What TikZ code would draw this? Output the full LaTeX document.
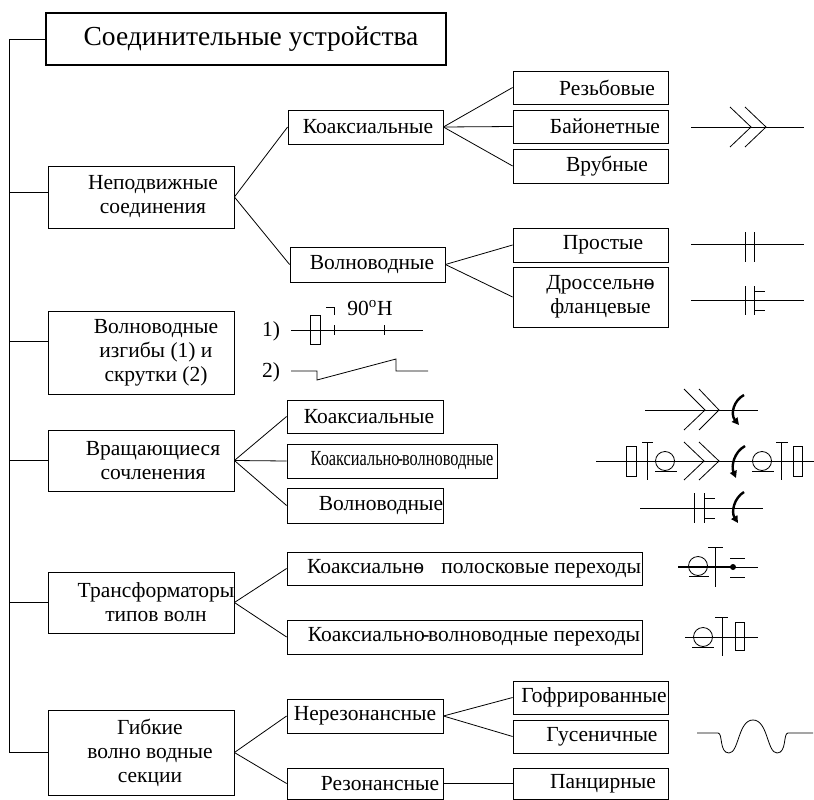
\documentclass[tikz,border=0pt]{standalone}
\usepackage{fontspec}
\setmainfont{Liberation Serif}
\usetikzlibrary{arrows.meta}
\newcommand{\body}{\fontsize{21.5}{24}\selectfont}
\newcommand{\obar}{\ooalign{о\cr\hidewidth-\hidewidth\cr}}
\newcommand{\jhy}{\kern-.12em-\kern-.06em}
\tikzset{
  box/.style={draw, line width=.8pt, inner sep=0pt},
  txt/.style={align=center, font=\body, inner sep=0pt},
  link/.style={line width=.8pt},
  sym/.style={line width=.8pt},
  turn/.style={line width=2.4pt, -{Triangle[length=7pt,width=7pt]}},
}
\begin{document}
\begin{tikzpicture}[x=1pt, y=-1pt]
  \useasboundingbox (0,0) rectangle (814,800);

  % title and trunk
  \node[box, line width=1.6pt, minimum width=400, minimum height=52] (top) at (246,39) {};
  \node[txt, font=\fontsize{27.5}{30}\selectfont] (top-t) at ([xshift=5]top.center) {Соединительные устройства};
  \coordinate (trunk) at (9,39);

  % first level
  \node[box, minimum width=186, minimum height=62] (nep) at (141,197) {};
  \node[txt] (nep-t) at ([xshift=12]nep.center) {Неподвижные\\соединения};
  \node[box, minimum width=186, minimum height=83] (izg) at (141,352.5) {};
  \node[txt] (izg-t) at ([xshift=15]izg.center) {Волноводные\\изгибы (1) и\\скрутки (2)};
  \node[box, minimum width=186, minimum height=61] (vra) at (141,460.5) {};
  \node[txt] (vra-t) at ([xshift=12]vra.center) {Вращающиеся\\сочленения};
  \node[box, minimum width=186, minimum height=61] (trf) at (141,602.5) {};
  \node[txt] (trf-t) at ([xshift=15]trf.center) {Трансформаторы\\типов волн};
  \node[box, minimum width=186, minimum height=85] (gib) at (141,752.5) {};
  \node[txt] (gib-t) at ([xshift=9]gib.center) {Гибкие\\волно водные\\секции};

  \draw[link] (top.west) -- (trunk) |- (gib.west);
  \draw[link] ([yshift=5]nep.west) -- ([yshift=5]nep.west -| trunk);
  \draw[link] ([yshift=11]izg.west) -- ([yshift=11]izg.west -| trunk);
  \draw[link] (vra.west) -- (vra.west -| trunk);
  \draw[link] (trf.west) -- (trf.west -| trunk);

  % fixed joints
  \node[box, minimum width=155, minimum height=34] (kx1) at (365.5,127) {};
  \node[txt] (kx1-t) at ([xshift=2.5]kx1.center) {Коаксиальные};
  \node[box, minimum width=155, minimum height=35] (vv1) at (367.5,264.5) {};
  \node[txt] (vv1-t) at ([xshift=4.5]vv1.center) {Волноводные};
  \node[box, minimum width=155, minimum height=33] (rez) at (590.5,87.5) {};
  \node[txt] (rez-t) at ([xshift=16.5]rez.center) {Резьбовые};
  \node[box, minimum width=155, minimum height=33] (bay) at (590.5,126.5) {};
  \node[txt] (bay-t) at ([xshift=14.5]bay.center) {Байонетные};
  \node[box, minimum width=155, minimum height=34] (vrb) at (590.5,166) {};
  \node[txt] (vrb-t) at ([xshift=16.5]vrb.center) {Врубные};
  \node[box, minimum width=155, minimum height=34] (pro) at (590.5,245) {};
  \node[txt] (pro-t) at ([xshift=12.5]pro.center) {Простые};
  \node[box, minimum width=155, minimum height=60] (dro) at (590.5,297) {};
  \node[txt] (dro-t) at ([xshift=10]dro.center) {Дроссельн\obar\\фланцевые};

  \draw[link] (nep.east) -- (kx1.west);
  \draw[link] (nep.east) -- (vv1.west);
  \draw[link] (kx1.east) -- (rez.west);
  \draw[link] (kx1.east) -- (bay.west);
  \draw[link] (kx1.east) -- (vrb.west);
  \draw[link] (vv1.east) -- (pro.west);
  \draw[link] (vv1.east) -- (dro.west);

  % rotating joints
  \node[box, minimum width=156, minimum height=33] (kx2) at (365,416.5) {};
  \node[txt] (kx2-t) at ([xshift=4]kx2.center) {Коаксиальные};
  \node[box, minimum width=210, minimum height=34] (kv2) at (392,461) {};
  \node[txt] (kv2-t) at ([xshift=10]kv2.center) {\scalebox{.76}[1]{Коаксиально\jhy волноводные}};
  \node[box, minimum width=156, minimum height=35] (vv2) at (365,505.5) {};
  \node[txt] (vv2-t) at ([xshift=16]vv2.center) {Волноводные};

  \draw[link] (vra.east) -- (kx2.west);
  \draw[link] (vra.east) -- (kv2.west);
  \draw[link] (vra.east) -- (vv2.west);

  % wave type transformers
  \node[box, minimum width=355, minimum height=33] (kpp) at (464.5,568.5) {};
  \node[txt] (kpp-t) at ([xshift=9.5]kpp.center) {Коаксиальн\obar\hspace{.8em}полосковые переходы};
  \node[box, minimum width=355, minimum height=34] (kwp) at (464.5,637) {};
  \node[txt] (kwp-t) at ([xshift=9.5]kwp.center) {Коаксиально\jhy волноводные переходы};

  \draw[link] (trf.east) -- (kpp.west);
  \draw[link] (trf.east) -- (kwp.west);

  % flexible sections
  \node[box, minimum width=156, minimum height=34] (ner) at (365,716) {};
  \node[txt] (ner-t) at (ner.center) {Нерезонансные};
  \node[box, minimum width=156, minimum height=31] (res) at (365,783.5) {};
  \node[txt] (res-t) at ([xshift=15]res.center) {Резонансные};
  \node[box, minimum width=155, minimum height=33] (gof) at (590.5,697.5) {};
  \node[txt] (gof-t) at ([xshift=3.5]gof.center) {Гофрированные};
  \node[box, minimum width=155, minimum height=33] (gus) at (590.5,736.5) {};
  \node[txt] (gus-t) at ([xshift=11.5]gus.center) {Гусеничные};
  \node[box, minimum width=155, minimum height=31] (pan) at (590.5,783.5) {};
  \node[txt] (pan-t) at ([xshift=12.5]pan.center) {Панцирные};

  \draw[link] (gib.east) -- (ner.west);
  \draw[link] (gib.east) -- (res.west);
  \draw[link] (ner.east) -- (gof.west);
  \draw[link] (ner.east) -- (gus.west);
  \draw[link] (res.east) -- (pan.west);

  % symbols: fixed joints
  \draw[sym] (691,127) -- (804,127);
  \draw[sym] (730,107) -- (751,127) -- (730,147);
  \draw[sym] (745,107) -- (766,127) -- (745,147);
  \draw[sym] (691,244) -- (804,244);
  \draw[sym] (745,232) -- (745,262) (754,232) -- (754,262);
  \draw[sym] (691,300) -- (804,300);
  \draw[sym] (745,286) -- (745,315) (754,286) -- (754,315);
  \draw[sym] (754,291) -- (765,291) (754,310) -- (765,310);

  % symbols: bends and twists
  \node[txt] (n1) at (271,331) {1)};
  \draw[sym] (291,330) -- (423,330);
  \draw[sym] (310,315) rectangle (320,344);
  \draw[sym] (334,325) -- (334,335) (384,325) -- (384,335);
  \draw[sym] (326,307) -- (334,307) -- (334,315);
  \node[txt] (deg) at (370,308) {90\textsuperscript{o}H};
  \node[txt] (n2) at (271,372) {2)};
  \draw[sym] (291,371) -- (317,371) -- (317,380) -- (396,359) -- (396,371) -- (428,371);

  % symbols: rotating joints
  \draw[sym] (645,410) -- (758,410);
  \draw[sym] (684,389) -- (705,410) -- (684,430);
  \draw[sym] (699,389) -- (719,410) -- (699,430);
  \draw[turn] (744,395) .. controls (734,400) and (730,414) .. (739,425);

  \draw[sym] (596,461) -- (814,461);
  \draw[sym] (626,446) rectangle (636,476);
  \draw[sym] (647,442) -- (647,480) (642,442) -- (653,442);
  \draw[sym] (665,461) circle[radius=9.5];
  \draw[sym] (655,471) -- (677,471);
  \draw[sym] (684,442) -- (704,461) -- (684,480);
  \draw[sym] (699,442) -- (719,461) -- (699,480);
  \draw[turn] (745,446) .. controls (734,452) and (731,466) .. (736,478);
  \draw[sym] (762,461) circle[radius=9.5];
  \draw[sym] (752,471) -- (774,471);
  \draw[sym] (781,442) -- (781,480) (776,442) -- (788,442);
  \draw[sym] (793,446) rectangle (802,476);

  \draw[sym] (640,508) -- (763,508);
  \draw[sym] (694,493) -- (694,523) (704,493) -- (704,523);
  \draw[sym] (704,498) -- (715,498) (704,518) -- (715,518);
  \draw[turn] (744,492) .. controls (734,498) and (731,512) .. (738,523);

  % symbols: transformers
  \draw[line width=2pt] (678,567) -- (733,567);
  \draw[sym] (733,567) -- (758,567);
  \draw[sym] (698,566) circle[radius=9.5];
  \draw[sym] (689,576) -- (709,576);
  \draw[sym] (715,547) -- (715,587) (708,547) -- (723,547);
  \fill (733,567) circle[radius=3];
  \draw[sym] (730,558) -- (745,558) (730,577) -- (745,577);

  \draw[sym] (685,637) -- (758,637);
  \draw[sym] (703,637) circle[radius=9.5];
  \draw[sym] (692,647) -- (714,647);
  \draw[sym] (722,617) -- (722,656) (715,617) -- (728,617);
  \draw[sym] (735,622) rectangle (744,650);

  % symbols: corrugated section
  \draw[sym] (697,733) -- (718,733) .. controls (723,733) and (719,753) .. (729,753)
    .. controls (739,753) and (738,720) .. (753,720)
    .. controls (768,720) and (767,753) .. (777,753)
    .. controls (787,753) and (783,733) .. (788,733) -- (813,733);
\end{tikzpicture}
\end{document}
